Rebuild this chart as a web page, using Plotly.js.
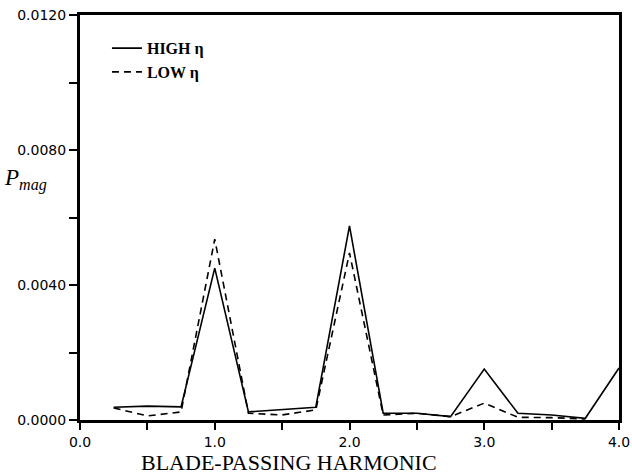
<!DOCTYPE html>
<html>
<head>
<meta charset="utf-8">
<script src="https://cdn.plot.ly/plotly-3.0.1.min.js"></script>
<style>html,body{margin:0;padding:0;background:#fff;}#chart{width:632px;height:476px;}</style>
</head>
<body>
<div id="chart"></div>
<script>
// Blade-passing harmonic positions
const harmonicHigh = [0.25, 0.5, 0.75, 1.0, 1.25, 1.5, 1.75, 2.0, 2.25, 2.5, 2.75, 3.0, 3.25, 3.5, 3.75, 4.0];
const pmagHigh     = [0.00038, 0.00041, 0.00039, 0.00450, 0.00024, 0.00030, 0.00038, 0.00575, 0.00020, 0.00020, 0.00010, 0.00151, 0.00020, 0.00015, 0.00005, 0.00154];
const harmonicLow  = [0.25, 0.5, 0.75, 1.0, 1.25, 1.5, 1.75, 2.0, 2.25, 2.5, 2.75, 3.0, 3.25, 3.5, 3.75];
const pmagLow      = [0.00036, 0.00012, 0.00024, 0.00536, 0.00020, 0.00015, 0.00030, 0.00495, 0.00015, 0.00020, 0.00010, 0.00050, 0.00008, 0.00007, 0.00003];
const seriesNames  = ['HIGH η', 'LOW η'];
const yTickVals    = [0, 0.002, 0.004, 0.006, 0.008, 0.010, 0.012];
const yTickText    = ['0.0000', '', '0.0040', '', '0.0080', '', '0.0120'];
const xTickVals    = [0, 0.5, 1, 1.5, 2, 2.5, 3, 3.5, 4];
const xTickText    = ['0.0', '', '1.0', '', '2.0', '', '3.0', '', '4.0'];

const traces = [
  {x: harmonicHigh, y: pmagHigh, mode: 'lines', name: seriesNames[0],
   line: {color: '#000', width: 1.6, dash: 'solid'}},
  {x: harmonicLow, y: pmagLow, mode: 'lines', name: seriesNames[1],
   line: {color: '#000', width: 1.6, dash: '7px,5px'}}
];

const tickFont = {family: 'DejaVu Sans', size: 14, color: '#000'};
const layout = {
  width: 632, height: 476,
  margin: {l: 80, r: 13, t: 15, b: 56},
  paper_bgcolor: '#fff', plot_bgcolor: '#fff',
  showlegend: true,
  legend: {x: 0.05, y: 0.96, xanchor: 'left', yanchor: 'top',
           font: {family: 'Liberation Serif', size: 16, color: '#000', weight: 'bold'},
           bgcolor: 'rgba(0,0,0,0)', tracegroupgap: 0},
  xaxis: {range: [0, 4], tickvals: xTickVals, ticktext: xTickText,
          ticks: 'outside', ticklen: 7, tickwidth: 2, tickcolor: '#000',
          showline: true, linewidth: 3, linecolor: '#000', mirror: true,
          showgrid: false, zeroline: false, tickfont: tickFont},
  yaxis: {range: [0, 0.012], tickvals: yTickVals, ticktext: yTickText,
          ticks: 'outside', ticklen: 8, tickwidth: 2, tickcolor: '#000',
          showline: true, linewidth: 3, linecolor: '#000', mirror: true,
          showgrid: false, zeroline: false, tickfont: tickFont},
  annotations: [
    {text: 'BLADE-PASSING HARMONIC', xref: 'paper', yref: 'paper',
     x: 0.387, y: -0.14, xanchor: 'center', yanchor: 'bottom', showarrow: false,
     font: {family: 'Liberation Serif', size: 22, color: '#000'}},
    {text: '<i>P<sub>mag</sub></i>', xref: 'paper', yref: 'paper',
     x: -0.145, y: 0.595, xanchor: 'left', yanchor: 'middle', showarrow: false,
     font: {family: 'Liberation Serif', size: 23, color: '#000'}}
  ]
};

Plotly.newPlot('chart', traces, layout, {displayModeBar: false, staticPlot: true});
</script>
</body>
</html>
